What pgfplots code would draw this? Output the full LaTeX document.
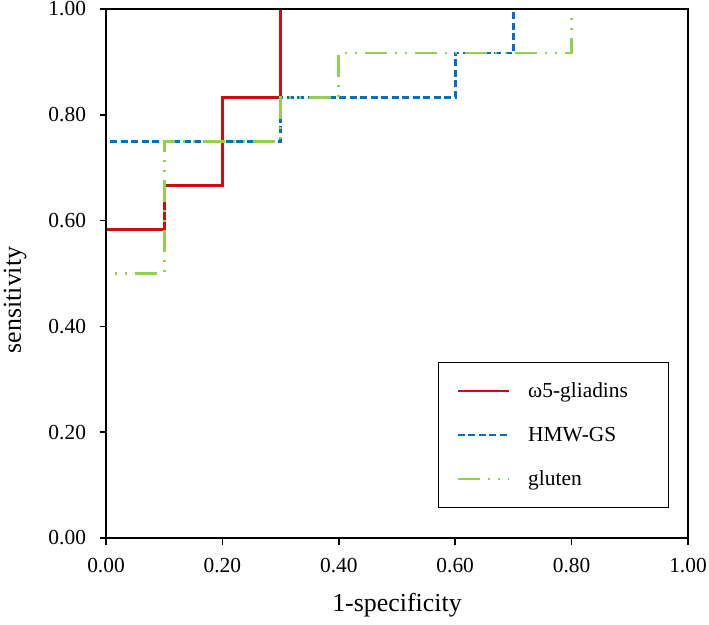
\documentclass[border=0pt]{standalone}
\usepackage{fontspec}
\setmainfont{Liberation Serif}
\usepackage{pgfplots}
\pgfplotsset{compat=1.18}
\definecolor{cred}{RGB}{200,16,16}
\definecolor{cblue}{RGB}{0,112,192}
\definecolor{cgreen}{RGB}{146,208,80}
\begin{document}
\begin{tikzpicture}
\begin{axis}[
  width=582bp, height=529bp, scale only axis,
  xmin=0, xmax=1, ymin=0, ymax=1,
  xtick={0,0.2,0.4,0.6,0.8,1}, ytick={0,0.2,0.4,0.6,0.8,1},
  tick align=outside, tick pos=left,
  major tick length=6.5bp,
  xtick style={draw=none}, ytick style={draw=none},
  axis line style={black, line width=1.4bp},
  /pgf/number format/.cd, fixed, fixed zerofill, precision=2, assume math mode=true, /pgfplots/.cd,
  ticklabel style={font=\fontsize{21.5}{25}\selectfont},
  xticklabel style={yshift=-10bp},
  yticklabel style={xshift=-10bp},
  xlabel={1-specificity}, ylabel={sensitivity},
  label style={font=\fontsize{26}{30}\selectfont},
  xlabel style={at={(rel axis cs:0.5,0)}, anchor=center, yshift=-67bp},
  ylabel style={at={(rel axis cs:0,0.45)}, anchor=center, rotate=0, yshift=91bp},
  legend style={at={(0.967,0.057)}, anchor=south east, draw=black, line width=1.2bp,
    font=\fontsize{21.5}{25}\selectfont, inner xsep=18bp, inner ysep=18bp, row sep=24bp,
    /tikz/every odd column/.append style={column sep=16bp}},
  legend cell align=left,
  legend image code/.code={\draw[#1] (0bp,0bp) -- (51bp,0bp);},
]
\addplot[cred, line width=2.8bp] coordinates {
 (0,0.083) (0,0.583) (0.1,0.583) (0.1,0.667) (0.2,0.667) (0.2,0.833) (0.3,0.833) (0.3,1) (1,1)};
\addlegendentry{\makebox[120bp][l]{ω5-gliadins}}
\addplot[cblue, line width=2.8bp, dash pattern=on 7bp off 3.5bp] coordinates {
 (0,0.083) (0,0.75) (0.3,0.75) (0.3,0.833) (0.6,0.833) (0.6,0.917) (0.7,0.917) (0.7,1) (1,1)};
\addlegendentry{HMW-GS}
\addplot[cgreen, line width=2.8bp, dash pattern=on 22bp off 8bp on 2bp off 8bp on 2bp off 8bp] coordinates {
 (0,0.083) (0,0.5) (0.1,0.5) (0.1,0.75) (0.3,0.75) (0.3,0.833) (0.4,0.833) (0.4,0.917) (0.8,0.917) (0.8,1) (1,1)};
\addlegendentry{gluten}
\coordinate (sw) at (rel axis cs:0,0);
\end{axis}
\begin{axis}[
  width=582bp, height=529bp, scale only axis,
  xmin=0, xmax=1, ymin=0, ymax=1,
  xtick={0,0.2,0.4,0.6,0.8,1}, ytick={0,0.2,0.4,0.6,0.8,1},
  xticklabels={}, yticklabels={},
  tick align=outside, tick pos=left,
  xtick style={draw=black, line width=1.5bp},
  ytick style={draw=black, line width=1.5bp},
  major tick length=6.5bp,
  axis line style={black, line width=1.4bp},
]
\end{axis}
\pgfresetboundingbox
\path (sw) ++(-106bp,-87bp) rectangle ++(709bp,625bp);
\end{tikzpicture}
\end{document}
